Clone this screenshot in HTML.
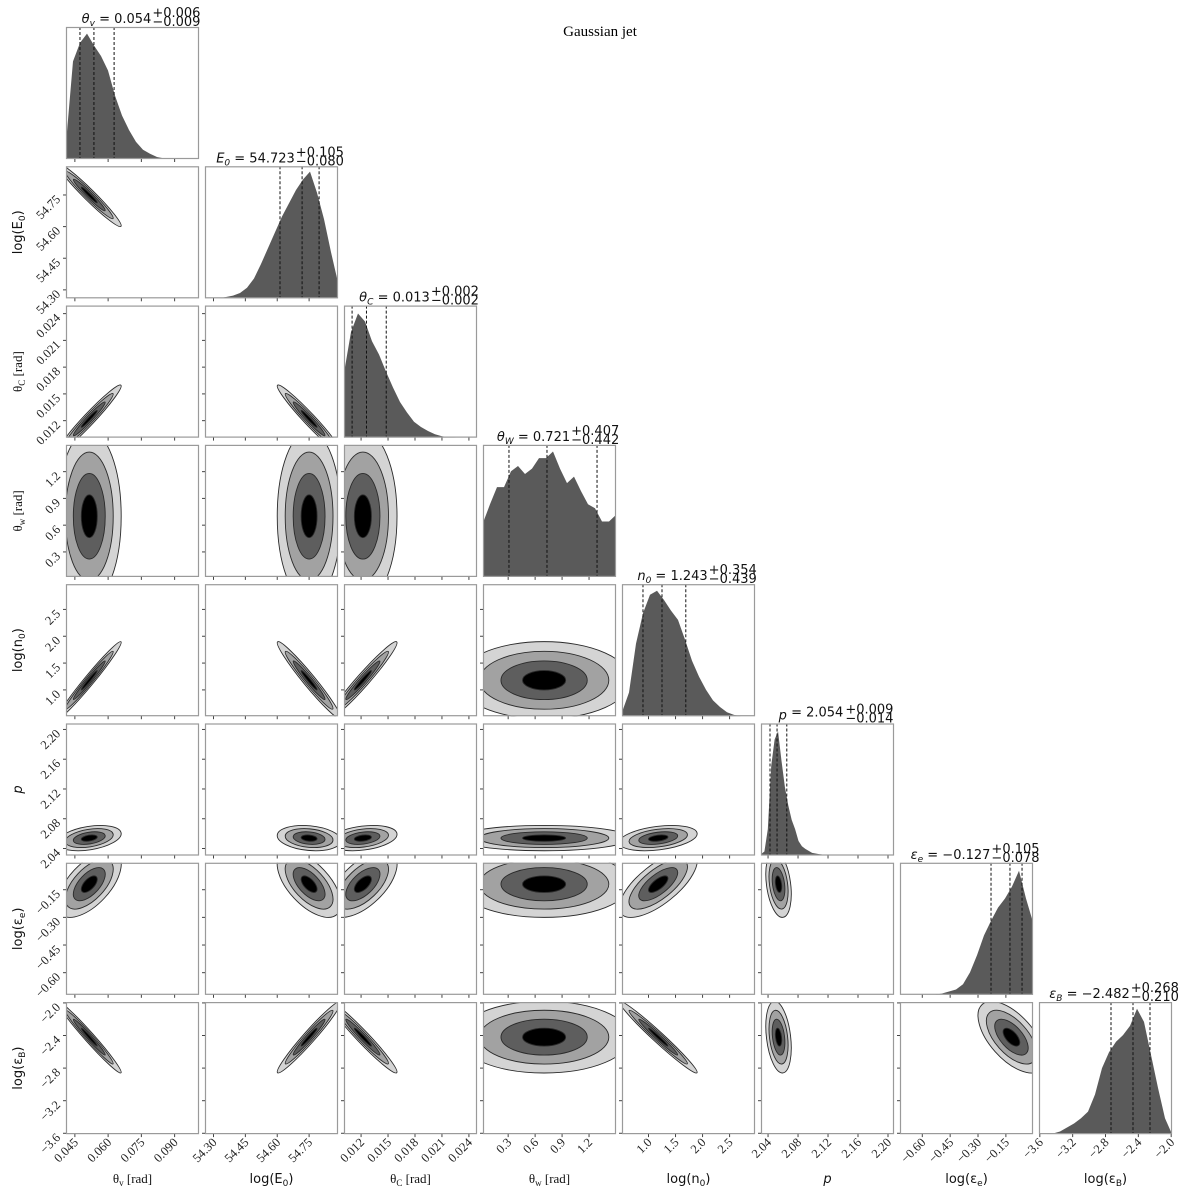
<!DOCTYPE html>
<html><head><meta charset="utf-8"><style>
html,body{margin:0;padding:0;background:#fff;}
svg{display:block;}
.tl{font-family:"Liberation Serif","DejaVu Serif",serif;font-size:12.5px;fill:#222;}
.al{font-size:13px;fill:#111;}
.ttl{font-family:"DejaVu Sans","Liberation Sans",sans-serif;font-size:13px;fill:#111;}
</style></head><body>
<svg id="fig" width="1200" height="1191" viewBox="0 0 1200 1191" xmlns="http://www.w3.org/2000/svg">
<text x="600" y="36" text-anchor="middle" font-family="Liberation Serif, DejaVu Serif, serif" font-size="15">Gaussian jet</text>
</svg>
<script>
// ---- data ----
const paramNames = ["theta-v","log-e0","theta-c","theta-w","log-n0","p","log-eps-e","log-eps-b"];
const rangeMin = [0.041, 54.26, 0.0101, 0.02, 0.51, 2.0306, -0.72, -3.61];
const rangeMax = [0.101, 54.886, 0.0249, 1.50, 2.97, 2.208, -0.004, -1.99];
const means = [0.0515, 54.75, 0.0122, 0.70, 1.18, 2.054, -0.12, -2.42];
const sds = [0.0072, 0.075, 0.0019, 0.48, 0.36, 0.0085, 0.09, 0.22];
const corrRow1 = [-0.97];
const corrRow2 = [0.97, -0.97];
const corrRow3 = [0, 0, 0];
const corrRow4 = [0.98, -0.97, 0.97, 0];
const corrRow5 = [0.35, -0.2, 0.3, 0, 0.35];
const corrRow6 = [0.6, -0.6, 0.6, 0, 0.7, -0.3];
const corrRow7 = [-0.98, 0.97, -0.97, 0, -0.98, -0.3, -0.6];
const corrRows = [[], corrRow1, corrRow2, corrRow3, corrRow4, corrRow5, corrRow6, corrRow7];
const hist0 = [0.12,0.74,0.88,0.95,0.86,0.78,0.67,0.48,0.33,0.22,0.13,0.07,0.04,0.015,0.005,0,0,0,0,0];
const hist1 = [0,0,0,0.01,0.02,0.04,0.08,0.15,0.26,0.38,0.50,0.62,0.72,0.82,0.90,0.96,0.80,0.60,0.35,0.12];
const hist2 = [0.49,0.8,0.94,0.88,0.73,0.63,0.5,0.38,0.27,0.19,0.12,0.08,0.05,0.025,0.01,0.004,0,0,0,0];
const hist3 = [0.41,0.55,0.68,0.68,0.8,0.84,0.78,0.82,0.9,0.9,0.95,0.82,0.71,0.76,0.65,0.55,0.52,0.42,0.42,0.47];
const hist4 = [0.03,0.18,0.55,0.78,0.92,0.95,0.88,0.8,0.73,0.58,0.42,0.3,0.2,0.12,0.07,0.03,0.01,0,0,0];
const hist5 = [0.01,0.03,0.2,0.68,0.88,0.94,0.72,0.52,0.38,0.27,0.2,0.11,0.07,0.05,0.035,0.02,0.015,0.01,0.008,0.005,0.003,0.002,0.001,0.001,0.001,0,0,0,0,0,0,0,0,0,0,0,0,0,0,0];
const hist6 = [0,0,0,0,0,0,0.01,0.025,0.04,0.08,0.17,0.3,0.45,0.56,0.66,0.73,0.82,0.94,0.73,0.55];
const hist7 = [0,0,0.005,0.02,0.05,0.08,0.12,0.17,0.3,0.5,0.62,0.7,0.75,0.82,0.95,0.85,0.6,0.35,0.12,0];
const hists = [hist0,hist1,hist2,hist3,hist4,hist5,hist6,hist7];
const qLo = [0.0473, 54.613, 0.011, 0.309, 0.898, 2.0426, -0.230, -2.733];
const qMed = [0.0536, 54.717, 0.0126, 0.732, 1.25, 2.052, -0.128, -2.465];
const qHi = [0.0627, 54.797, 0.0148, 1.289, 1.69, 2.065, -0.063, -2.258];
const ticks0 = [0.045,0.060,0.075,0.090];
const ticks1 = [54.30,54.45,54.60,54.75];
const ticks2 = [0.012,0.015,0.018,0.021,0.024];
const ticks3 = [0.3,0.6,0.9,1.2];
const ticks4 = [1.0,1.5,2.0,2.5];
const ticks5 = [2.04,2.08,2.12,2.16,2.20];
const ticks6 = [-0.60,-0.45,-0.30,-0.15];
const ticks7 = [-3.6,-3.2,-2.8,-2.4,-2.0];
const tickLists = [ticks0,ticks1,ticks2,ticks3,ticks4,ticks5,ticks6,ticks7];
const tickDecimals = [3,2,3,1,1,2,2,1];
const titleSym = ['θ<tspan font-size="9" dy="3">v</tspan>','E<tspan font-size="9" dy="3">0</tspan>','θ<tspan font-size="9" dy="3">C</tspan>','θ<tspan font-size="9" dy="3">W</tspan>','n<tspan font-size="9" dy="3">0</tspan>','p<tspan dy="3"></tspan>','ε<tspan font-size="9" dy="3">e</tspan>','ε<tspan font-size="9" dy="3">B</tspan>'];
const titleVal = ["0.054","54.723","0.013","0.721","1.243","2.054","−0.127","−2.482"];
const titlePlus = ["+0.006","+0.105","+0.002","+0.407","+0.354","+0.009","+0.105","+0.268"];
const titleMinus = ["−0.009","−0.080","−0.002","−0.442","−0.439","−0.014","−0.078","−0.210"];
const axisLabels = ['θ<tspan font-size="9" dy="3">v</tspan><tspan dy="-3"> [rad]</tspan>','log(E<tspan font-size="9" dy="3">0</tspan><tspan dy="-3">)</tspan>','θ<tspan font-size="9" dy="3">C</tspan><tspan dy="-3"> [rad]</tspan>','θ<tspan font-size="9" dy="3">w</tspan><tspan dy="-3"> [rad]</tspan>','log(n<tspan font-size="9" dy="3">0</tspan><tspan dy="-3">)</tspan>','<tspan font-style="italic">p</tspan>','log(ε<tspan font-size="9" dy="3">e</tspan><tspan dy="-3">)</tspan>','log(ε<tspan font-size="9" dy="3">B</tspan><tspan dy="-3">)</tspan>'];
const axisSerif = [true,false,true,true,false,false,false,false];
const levels = [2.0, 1.5, 1.0, 0.5];
const levelFill = ["#d4d4d4", "#a2a2a2", "#5e5e5e", "#000000"];

// ---- layout ----
const NS = "http://www.w3.org/2000/svg";
const svg = document.getElementById('fig');
const X0 = 66, Y0 = 27, SX = 139, SY = 139.3, W = 133, H = 132;
function pl(c){ return X0 + c*SX; }
function pt(r){ return Y0 + r*SY; }
function xs(c, v){ return pl(c) + (v - rangeMin[c])/(rangeMax[c]-rangeMin[c])*W; }
function ys(r, v){ return pt(r) + H - (v - rangeMin[r])/(rangeMax[r]-rangeMin[r])*H; }
function mk(tag, attrs, parent){
  const e = document.createElementNS(NS, tag);
  for (const k in attrs) e.setAttribute(k, attrs[k]);
  (parent||svg).appendChild(e); return e;
}
function fmt(v, d){ const s = Math.abs(v).toFixed(d); return (v<0?"−":"")+s; }

const defs = mk('defs', {});
for (let r=0;r<8;r++){
  for (let c=0;c<=r;c++){
    const cp = mk('clipPath', {id:'cp'+r+'_'+c}, defs);
    mk('rect', {x:pl(c), y:pt(r), width:W, height:H}, cp);
    const g = mk('g', {'clip-path':'url(#cp'+r+'_'+c+')'});
    
    
    if (r===c){
      const h = hists[c]; const n = h.length;
      let d = 'M'+pl(c)+','+(pt(r)+H);
      for (let k=0;k<n;k++){
        const v = rangeMin[c] + k/(n-1)*(rangeMax[c]-rangeMin[c]);
        d += ' L'+xs(c,v).toFixed(2)+','+(pt(r)+H - h[k]*H).toFixed(2);
      }
      d += ' L'+(pl(c)+W)+','+(pt(r)+H)+' Z';
      const p = mk('path', {d:d, fill:'#5a5a5a', stroke:'none'}, g);
      
      
      const qs = [qLo[c], qMed[c], qHi[c]];
      for (let k=0;k<3;k++){
        const x = xs(c, qs[k]);
        const l = mk('line', {x1:x, x2:x, y1:pt(r), y2:pt(r)+H, stroke:'#111', 'stroke-width':1, 'stroke-dasharray':'3,2'}, g);
        
        
      }
    } else {
      const rho = corrRows[r][c];
      const sx = sds[c]/(rangeMax[c]-rangeMin[c])*W;
      const sy = sds[r]/(rangeMax[r]-rangeMin[r])*H;
      const a = sx*sx, b = sy*sy, cc = -rho*sx*sy;
      const ang = 0.5*Math.atan2(2*cc, a-b)*180/Math.PI;
      const m = (a+b)/2, dd = Math.sqrt(((a-b)/2)**2 + cc*cc);
      const l1 = Math.sqrt(m+dd), l2 = Math.sqrt(Math.max(m-dd, 0.5));
      const cx = xs(c, means[c]), cy = ys(r, means[r]);
      for (let k=0;k<levels.length;k++){
        const e = mk('ellipse', {cx:cx, cy:cy, rx:levels[k]*l1, ry:levels[k]*l2, transform:'rotate('+ang.toFixed(2)+' '+cx+' '+cy+')', fill:levelFill[k], stroke:'#2a2a2a', 'stroke-width':0.9}, g);
        
        
      }
    }
    const frame = mk('rect', {x:pl(c)+0.5, y:pt(r)+0.5, width:W-1, height:H-1, fill:'none', stroke:'#9a9a9a', 'stroke-width':1.2});
    
    
    for (const t of tickLists[c]){
      const x = xs(c, t);
      mk('line', {x1:x, x2:x, y1:pt(r)+H, y2:pt(r)+H+3, stroke:'#444', 'stroke-width':1});
      if (r===7){
        const yy = pt(r)+H+9;
        const tx = mk('text', {x:x+4, y:yy, 'text-anchor':'end', 'class':'tl', transform:'rotate(-45 '+(x+4)+' '+yy+')'});
        tx.textContent = fmt(t, tickDecimals[c]);
        
        
      }
    }
    if (r!==c){
      for (const t of tickLists[r]){
        const y = ys(r, t);
        if (y < pt(r)-1 || y > pt(r)+H+1) continue;
        mk('line', {x1:pl(c)-3, x2:pl(c), y1:y, y2:y, stroke:'#444', 'stroke-width':1});
        if (c===0){
          const xx = pl(c)-5, yy = y+5;
          const tx = mk('text', {x:xx, y:yy, 'text-anchor':'end', 'class':'tl', transform:'rotate(-45 '+xx+' '+yy+')'});
          tx.textContent = fmt(t, tickDecimals[r]);
          
          
        }
      }
    }
  }
  // titles
  const cx = pl(r) + W/2;
  const tt = mk('text', {x:0, y:pt(r)-4, 'text-anchor':'start', 'class':'ttl'});
  tt.innerHTML = '<tspan font-style="italic">'+titleSym[r]+'</tspan><tspan dy="-3"> = '+titleVal[r]+'</tspan>';
  
  
  const wm = tt.getBBox().width;
  const start = cx - (wm + 32)/2;
  tt.setAttribute('x', start);
  const tp = mk('text', {x:start+wm+1, y:pt(r)-10, 'text-anchor':'start', 'class':'ttl', 'font-size':9.5});
  tp.textContent = titlePlus[r];
  
  
  const tm = mk('text', {x:start+wm+1, y:pt(r)-1, 'text-anchor':'start', 'class':'ttl', 'font-size':9.5});
  tm.textContent = titleMinus[r];
  
  
}
for (let i=0;i<8;i++){
  const fam = axisSerif[i] ? 'Liberation Serif, DejaVu Serif, serif' : 'DejaVu Sans, Liberation Sans, sans-serif';
  const xl = mk('text', {x:pl(i)+W/2, y:1183, 'text-anchor':'middle', 'class':'al', 'font-family':fam});
  xl.innerHTML = axisLabels[i];
  
  
  if (i>0){
    const yc = pt(i)+H/2;
    const yl = mk('text', {x:22, y:yc, 'text-anchor':'middle', 'class':'al', 'font-family':fam, transform:'rotate(-90 22 '+yc+')'});
    yl.innerHTML = axisLabels[i];
    
    
  }
}
</script>
</body></html>
